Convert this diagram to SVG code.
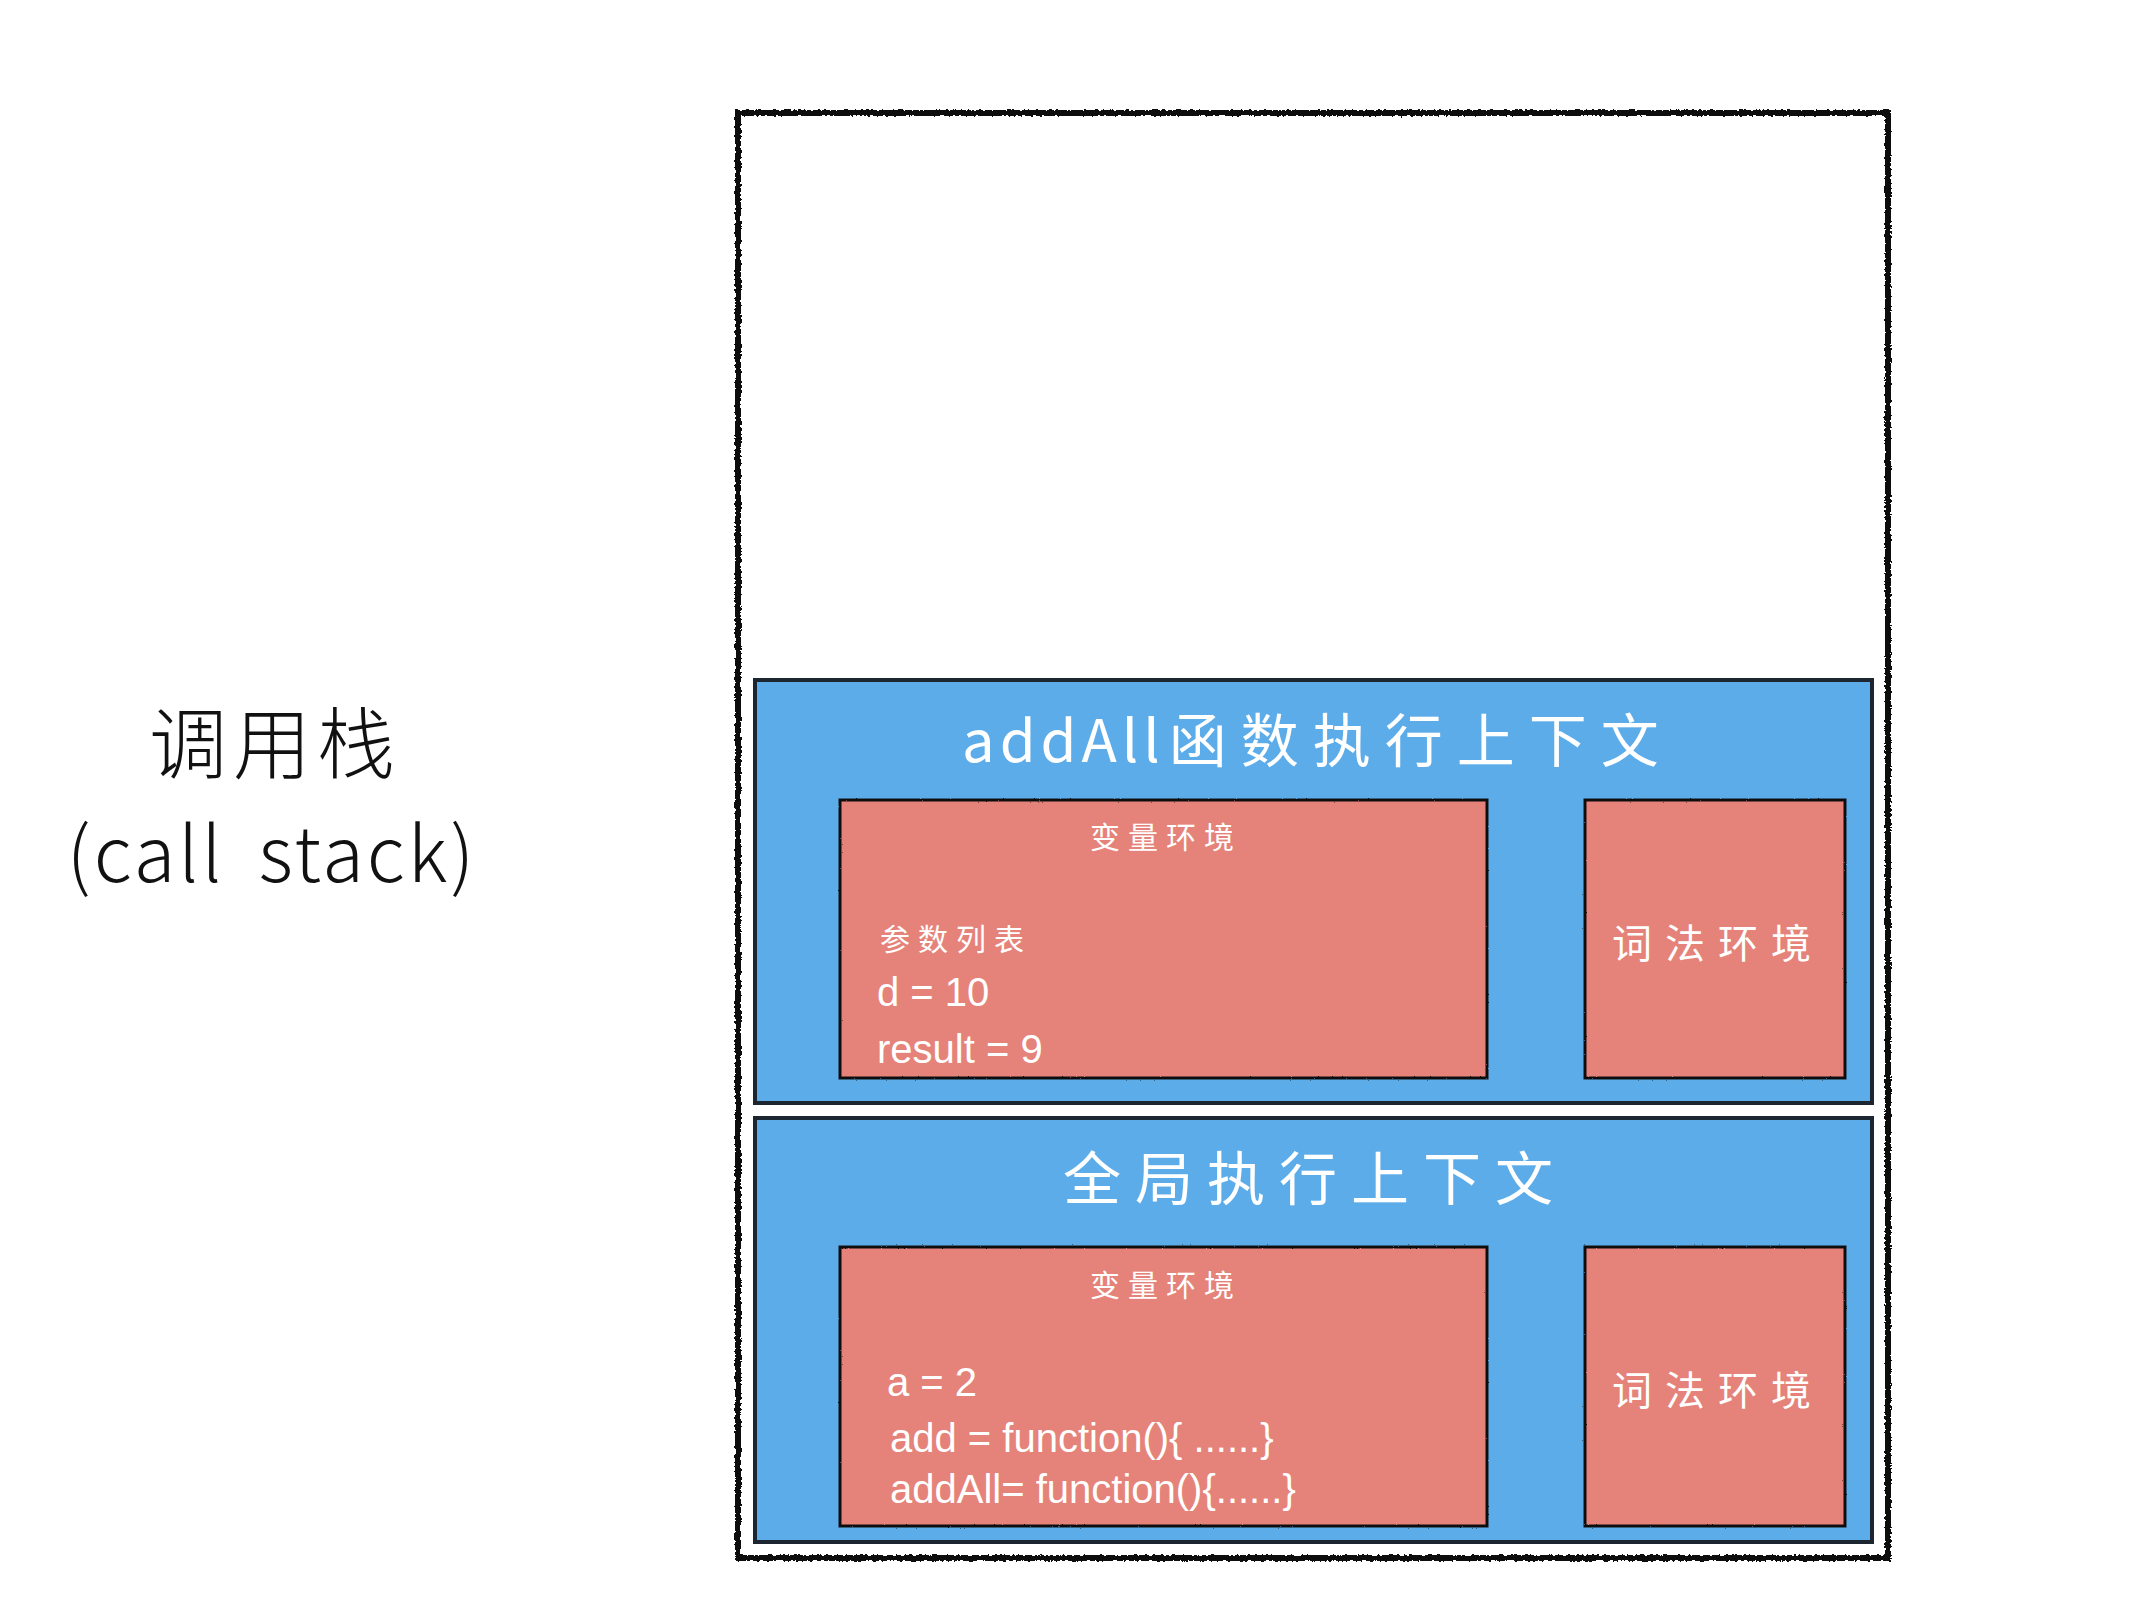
<svg xmlns="http://www.w3.org/2000/svg" width="2156" height="1600" viewBox="0 0 2156 1600">
  <defs>
    <filter id="rough" x="-2%" y="-2%" width="104%" height="104%">
      <feTurbulence type="fractalNoise" baseFrequency="0.35" numOctaves="2" seed="3" result="n"/>
      <feDisplacementMap in="SourceGraphic" in2="n" scale="4" xChannelSelector="R" yChannelSelector="G"/>
    </filter>
    <filter id="rough2" x="-2%" y="-2%" width="104%" height="104%">
      <feTurbulence type="fractalNoise" baseFrequency="0.5" numOctaves="1" seed="7" result="n"/>
      <feDisplacementMap in="SourceGraphic" in2="n" scale="2" xChannelSelector="R" yChannelSelector="G"/>
    </filter>
  </defs>
  <style>
    .ctx { fill: #5DACEA; stroke: #1c2630; stroke-width: 4; }
    .env { fill: #E5837A; stroke: #111; stroke-width: 3; }
    .title { font-family: "Noto Sans CJK SC", "Noto Sans", sans-serif; font-size: 58px; fill: #fff; }
    .small { font-family: "Noto Sans CJK SC", sans-serif; font-size: 30px; fill: #fff; letter-spacing: 8px; }
    .lex { font-family: "Noto Sans CJK SC", sans-serif; font-size: 40px; fill: #fff; letter-spacing: 13px; }
    .code { font-family: "Liberation Sans", "Noto Sans", sans-serif; font-size: 40px; fill: #fff; }
    .label { font-family: "Noto Sans CJK SC", "Noto Sans", sans-serif; fill: #111; font-weight: 300; }
  </style>
  <rect width="2156" height="1600" fill="#fff"/>

  <g id="callstack-label">
    <text class="label" x="149" y="773" font-size="78" letter-spacing="6">调用栈</text>
    <text class="label" x="272" y="882" font-size="76" text-anchor="middle" letter-spacing="3" word-spacing="14" font-family="Noto Sans, sans-serif">(call stack)</text>
  </g>

  <g id="stack">
    <rect x="738" y="113" width="1150" height="1445" fill="none" stroke="#111" stroke-width="6" filter="url(#rough)"/>
  </g>

  <g id="addAll-context">
    <rect class="ctx" x="755" y="680" width="1117" height="423"/>
    <text class="title" x="962" y="762"><tspan letter-spacing="5">addAll</tspan><tspan dx="4" letter-spacing="14">函数执行上下文</tspan></text>
  </g>
  <g id="addAll-variable-env">
    <rect class="env" x="840" y="800" width="647" height="278" filter="url(#rough2)"/>
    <text class="small" x="1090" y="848">变量环境</text>
    <text class="small" x="880" y="950" letter-spacing="9">参数列表</text>
    <text class="code" x="877" y="1006">d = 10</text>
    <text class="code" x="877" y="1063">result = 9</text>
  </g>
  <g id="addAll-lexical-env">
    <rect class="env" x="1585" y="800" width="260" height="278" filter="url(#rough2)"/>
    <text class="lex" x="1612" y="958">词法环境</text>
  </g>

  <g id="global-context">
    <rect class="ctx" x="755" y="1118" width="1117" height="424"/>
    <text class="title" x="1063" y="1200" letter-spacing="14">全局执行上下文</text>
  </g>
  <g id="global-variable-env">
    <rect class="env" x="840" y="1247" width="647" height="279" filter="url(#rough2)"/>
    <text class="small" x="1090" y="1296">变量环境</text>
    <text class="code" x="887" y="1396">a = 2</text>
    <text class="code" x="890" y="1452">add = function(){ ......}</text>
    <text class="code" x="890" y="1503">addAll= function(){......}</text>
  </g>
  <g id="global-lexical-env">
    <rect class="env" x="1585" y="1247" width="260" height="279" filter="url(#rough2)"/>
    <text class="lex" x="1612" y="1405">词法环境</text>
  </g>

  <g id="connectors"/>
</svg>
